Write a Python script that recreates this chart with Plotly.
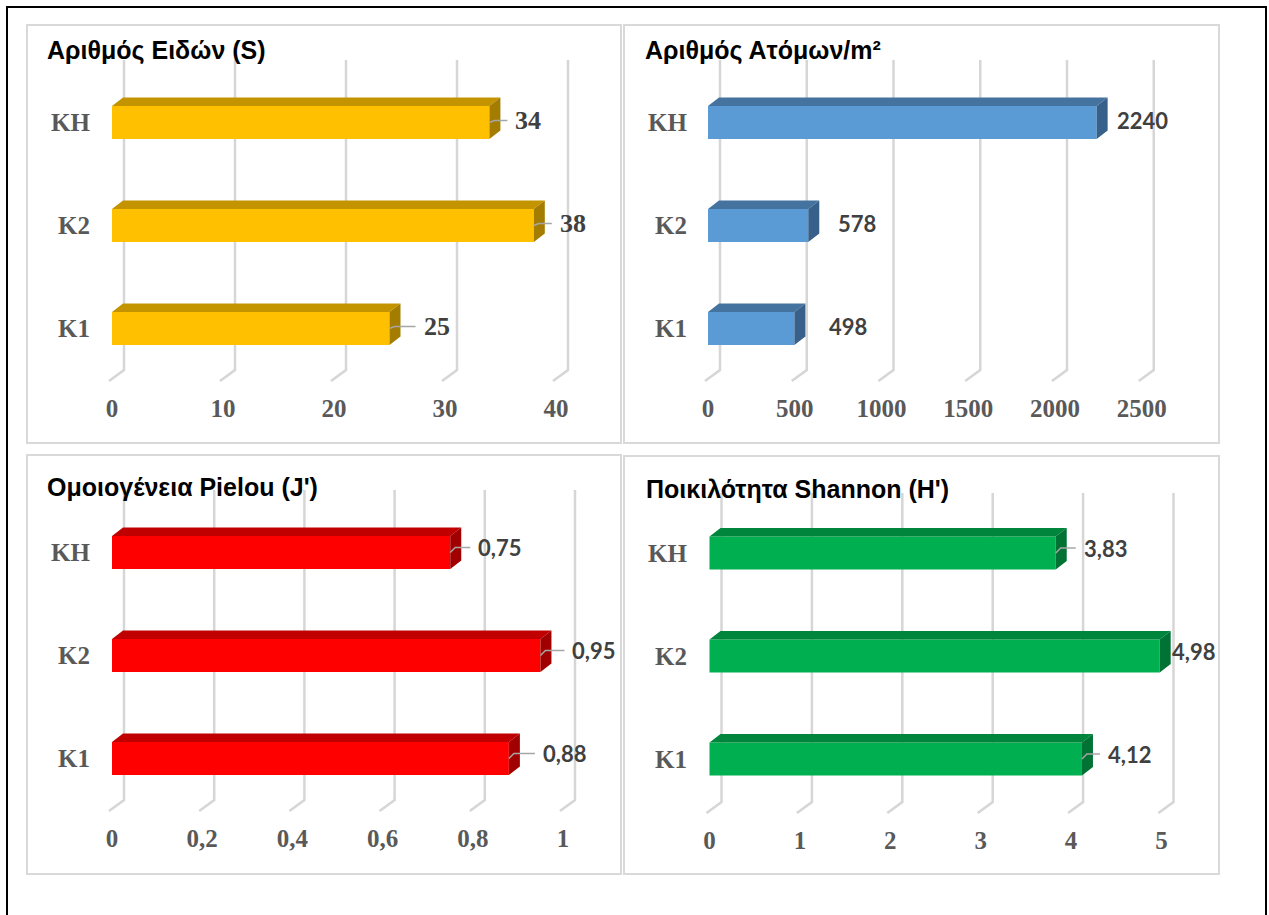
import plotly.graph_objects as go

W, H = 1269, 915

# ---------------- data ----------------
categories = ["KH", "K2", "K1"]          # top to bottom
species_S = [34, 38, 25]
individuals_m2 = [2240, 578, 498]
pielou_J = [0.75, 0.95, 0.88]
shannon_H = [3.83, 4.98, 4.12]

titles = ["Αριθμός Ειδών (S)", "Αριθμός Ατόμων/m²",
          "Ομοιογένεια Pielou (J')", "Ποικιλότητα Shannon (H')"]
ticks_S = [0, 10, 20, 30, 40]
ticks_N = [0, 500, 1000, 1500, 2000, 2500]
ticks_J = [0, 0.2, 0.4, 0.6, 0.8, 1]
ticks_H = [0, 1, 2, 3, 4, 5]


def gr(v):
    return f"{v:g}".replace(".", ",")


# ---------------- layout configuration (pixels) ----------------
SERIF = "Liberation Serif"
SANS = "Lato"
panels = [
    dict(values=species_S, ticks=ticks_S, title=titles[0],
         x0=112, s=11.1, yK1=328.5, box=(27, 25, 621, 443), dom=(100, 612, 56, 385),
         title_xy=(45, 51), grid=(60, 370),
         colors=("#FFC000", "#C49300", "#A47C00"),
         lfont=(SERIF, 26), gaps=[24, 24, 32], ldy=-2, leader=[1, 1, 1]),
    dict(values=individuals_m2, ticks=ticks_N, title=titles[1],
         x0=708, s=0.1735, yK1=328.5, box=(624, 25, 1219, 443), dom=(697, 1215, 56, 385),
         title_xy=(643, 51), grid=(60, 370),
         colors=("#5B9BD5", "#44739F", "#37618A"),
         lfont=(SANS, 22), gaps=[18, 28, 33], ldy=-2, leader=[0, 0, 0]),
    dict(values=pielou_J, ticks=ticks_J, title=titles[2],
         x0=112, s=451, yK1=758.5, box=(27, 455, 621, 874), dom=(100, 612, 486, 815),
         title_xy=(45, 487), grid=(490, 800),
         colors=("#FF0000", "#C00000", "#A00000"),
         lfont=(SANS, 22), gaps=[26, 30, 32], ldy=-5, leader=[1, 1, 1]),
    dict(values=shannon_H, ticks=ticks_H, title=titles[3],
         x0=709.5, s=90.4, yK1=759, box=(624, 456, 1219, 874), dom=(697, 1215, 488, 817),
         title_xy=(644, 489), grid=(493, 802),
         colors=("#00B050", "#00863C", "#007233"),
         lfont=(SANS, 22), gaps=[26, 10, 24], ldy=-5, leader=[1, 0, 1]),
]

ROW = 103.0      # px between category rows
BAR_H = 33.0     # px bar thickness
DX, DY = 11.0, 8.5   # bar depth
GDX, GDY = 12.0, 11.0  # gridline depth

fig = go.Figure()
layout = dict(width=W, height=H, margin=dict(l=0, r=0, t=0, b=0),
              paper_bgcolor="white", plot_bgcolor="rgba(0,0,0,0)",
              showlegend=False, shapes=[], annotations=[])

for k, p in enumerate(panels):
    n = "" if k == 0 else str(k + 1)
    xa, ya = "x" + n, "y" + n
    s = p["s"]

    def X(px, p=p):
        return (px - p["x0"]) / p["s"]

    def Y(py, p=p):
        return (p["yK1"] - py) / ROW

    L, R, T, B = p["dom"]
    ypos = [len(categories) - 1 - i for i in range(len(categories))]
    bh = BAR_H / ROW
    dxu, dyu = DX / s, DY / ROW

    # gridlines (back wall + floor diagonal), drawn beneath the bars
    for t in p["ticks"]:
        xb, xf = t + GDX / s, t - 3 / s
        y1, y2, y3 = Y(p["grid"][0]), Y(p["grid"][1]), Y(p["grid"][1] + GDY)
        layout["shapes"].append(dict(
            type="path", xref=xa, yref=ya, layer="below",
            path=f"M {xb},{y1} L {xb},{y2} L {xf},{y3}",
            line=dict(color="#D6D6D6", width=2.5)))

    # front faces
    front, top, side = p["colors"]
    fig.add_trace(go.Bar(x=p["values"], y=ypos, orientation="h", width=bh,
                         marker=dict(color=front, line=dict(width=0)),
                         xaxis=xa, yaxis=ya, hoverinfo="skip"))
    # top and side faces
    tx, ty, sx, sy = [], [], [], []
    for v, yc in zip(p["values"], ypos):
        yt, yb = yc + bh / 2, yc - bh / 2
        tx += [0, v, v + dxu, dxu, 0, None]
        ty += [yt, yt, yt + dyu, yt + dyu, yt, None]
        sx += [v, v, v + dxu, v + dxu, v, None]
        sy += [yb, yt, yt + dyu, yb + dyu, yb, None]
    fig.add_trace(go.Scatter(x=tx, y=ty, mode="lines", fill="toself", fillcolor=top,
                             line=dict(width=0, color=top), xaxis=xa, yaxis=ya, hoverinfo="skip"))
    fig.add_trace(go.Scatter(x=sx, y=sy, mode="lines", fill="toself", fillcolor=side,
                             line=dict(width=0, color=side), xaxis=xa, yaxis=ya, hoverinfo="skip"))

    # leader lines + data labels
    lx, ly = [], []
    for v, yc, gap, led in zip(p["values"], ypos, p["gaps"], p["leader"]):
        ylab = yc - p["ldy"] / ROW
        if led:
            lx += [v, v + 5 / s, v + (gap - 6) / s, None]
            ly += [yc, ylab, ylab, None]
        layout["annotations"].append(dict(
            x=v + gap / s, y=ylab, xref=xa, yref=ya, text=gr(v), showarrow=False,
            xanchor="left", yanchor="middle",
            font=dict(family=p["lfont"][0], size=p["lfont"][1], color="#404040", weight="bold")))
    if lx:
        fig.add_trace(go.Scatter(x=lx, y=ly, mode="lines", xaxis=xa, yaxis=ya,
                                 line=dict(color="#A6A6A6", width=1.5), hoverinfo="skip"))

    tickfont = dict(family=SERIF, size=25, color="#595959", weight="bold")
    layout["xaxis" + n] = dict(domain=[L / W, R / W], range=[X(L), X(R)], anchor=ya,
                               tickvals=p["ticks"], ticktext=[gr(t) for t in p["ticks"]],
                               tickfont=tickfont, ticks="outside", ticklen=1,
                               tickcolor="rgba(0,0,0,0)", showgrid=False, zeroline=False,
                               showline=False, fixedrange=True)
    layout["yaxis" + n] = dict(domain=[(H - B) / H, (H - T) / H], range=[Y(B), Y(T)], anchor=xa,
                               tickvals=ypos, ticktext=categories, tickfont=tickfont,
                               ticks="outside", ticklen=4, tickcolor="rgba(0,0,0,0)",
                               showgrid=False, zeroline=False, showline=False, fixedrange=True)

    # panel border
    bx0, by0, bx1, by1 = p["box"]
    layout["shapes"].append(dict(type="rect", xref="paper", yref="paper",
                                 x0=bx0 / W, x1=bx1 / W, y0=1 - by1 / H, y1=1 - by0 / H,
                                 line=dict(color="#D9D9D9", width=2), layer="below"))
    # title
    layout["annotations"].append(dict(
        x=p["title_xy"][0] / W, y=1 - p["title_xy"][1] / H, xref="paper", yref="paper",
        text=p["title"], showarrow=False, xanchor="left", yanchor="middle",
        font=dict(family="Liberation Sans", size=25, color="black", weight="bold")))

# outer black frame
layout["shapes"].append(dict(type="rect", xref="paper", yref="paper",
                             x0=7 / W, x1=1266 / W, y0=-0.05, y1=1 - 7 / H,
                             line=dict(color="black", width=2)))

fig.update_layout(**layout)
fig.write_html("out.html")
